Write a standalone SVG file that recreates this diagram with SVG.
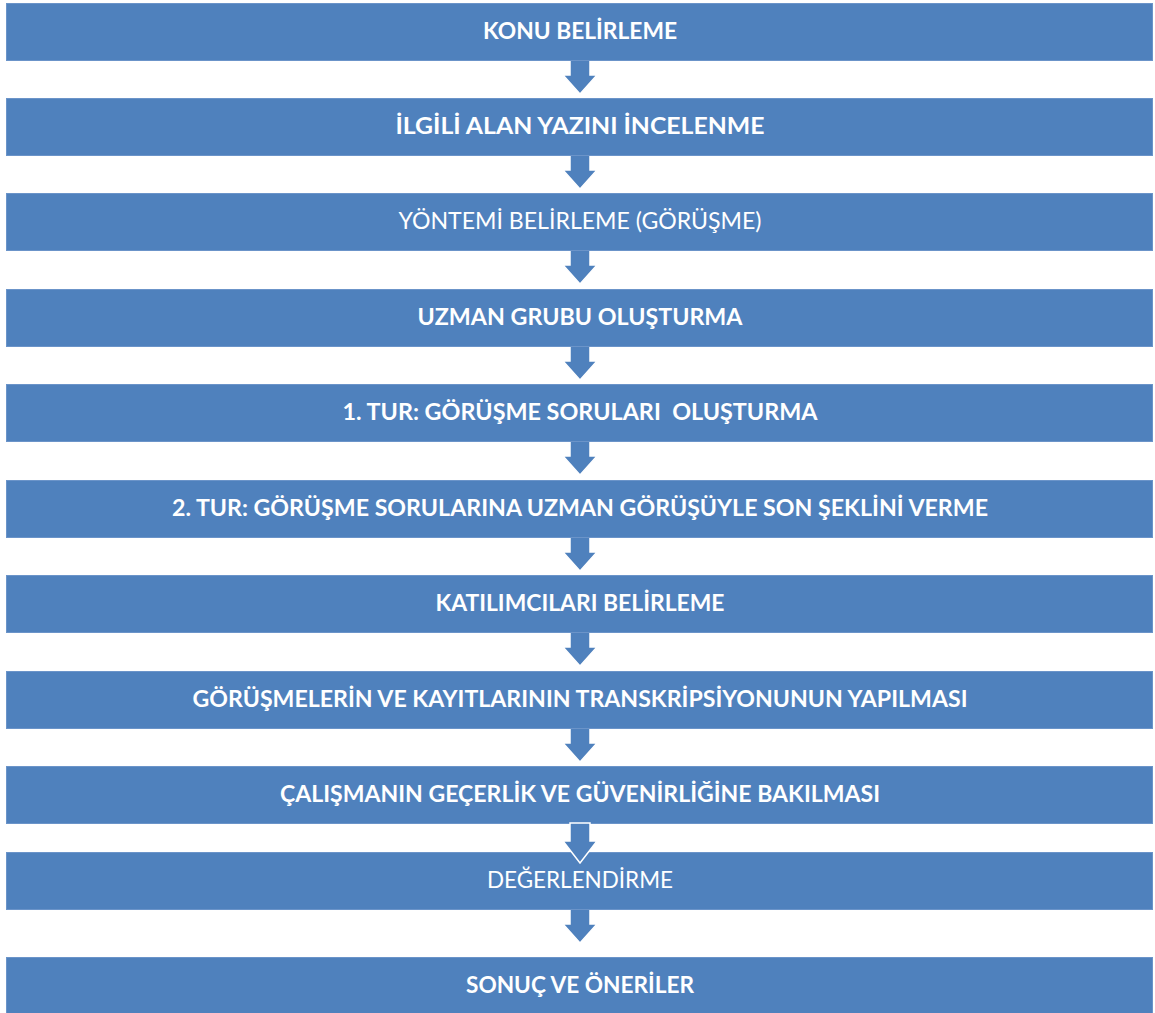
<svg xmlns="http://www.w3.org/2000/svg" width="1155" height="1013" viewBox="0 0 1155 1013">
  <style>
    .box { fill: #4F81BD; stroke: #6B94C9; stroke-width: 1; }
    .arrow { fill: #4F81BD; stroke: #FFFFFF; stroke-width: 1.5; stroke-linejoin: miter; }
    .lbl { font-family: Lato, "Open Sans", "Liberation Sans", sans-serif; font-size: 23.5px; fill: #FFFFFF; text-anchor: middle; }
    .b { font-weight: bold; }
  </style>
  <defs>
    <!-- down arrow, origin at the top of the stem -->
    <path id="down" d="M -10 0 H 10 V 15 H 17 L 0 34 L -17 15 H -10 Z"/>
    <!-- longer variant that runs into the box below -->
    <path id="downLong" d="M -10 0 H 10 V 18 H 17 L 0 40 L -17 18 H -10 Z"/>
  </defs>
  <rect width="1155" height="1013" fill="#FFFFFF"/>

  <g id="connectors">
    <use href="#down" class="arrow" x="580" y="60"/>
    <use href="#down" class="arrow" x="580" y="155"/>
    <use href="#down" class="arrow" x="580" y="250"/>
    <use href="#down" class="arrow" x="580" y="346"/>
    <use href="#down" class="arrow" x="580" y="441"/>
    <use href="#down" class="arrow" x="580" y="537"/>
    <use href="#down" class="arrow" x="580" y="632"/>
    <use href="#down" class="arrow" x="580" y="728"/>
    <use href="#down" class="arrow" x="580" y="909"/>
  </g>

  <g id="n1"><rect class="box" x="6.5" y="3.5" width="1146" height="57"/>
    <text class="lbl b" x="580" y="39" textLength="194" lengthAdjust="spacingAndGlyphs">KONU BELİRLEME</text></g>
  <g id="n2"><rect class="box" x="6.5" y="98.5" width="1146" height="57"/>
    <text class="lbl b" x="580" y="134" textLength="369" lengthAdjust="spacingAndGlyphs">İLGİLİ ALAN YAZINI İNCELENME</text></g>
  <g id="n3"><rect class="box" x="6.5" y="193.5" width="1146" height="57"/>
    <text class="lbl" x="580" y="229" textLength="363" lengthAdjust="spacingAndGlyphs">YÖNTEMİ BELİRLEME (GÖRÜŞME)</text></g>
  <g id="n4"><rect class="box" x="6.5" y="289.5" width="1146" height="57"/>
    <text class="lbl b" x="580" y="325" textLength="325" lengthAdjust="spacingAndGlyphs">UZMAN GRUBU OLUŞTURMA</text></g>
  <g id="n5"><rect class="box" x="6.5" y="384.5" width="1146" height="57"/>
    <text class="lbl b" x="580" y="420" textLength="475" lengthAdjust="spacingAndGlyphs" xml:space="preserve">1. TUR: GÖRÜŞME SORULARI  OLUŞTURMA</text></g>
  <g id="n6"><rect class="box" x="6.5" y="480.5" width="1146" height="57"/>
    <text class="lbl b" x="580" y="516" textLength="816" lengthAdjust="spacingAndGlyphs">2. TUR: GÖRÜŞME SORULARINA UZMAN GÖRÜŞÜYLE SON ŞEKLİNİ VERME</text></g>
  <g id="n7"><rect class="box" x="6.5" y="575.5" width="1146" height="57"/>
    <text class="lbl b" x="580" y="611" textLength="289" lengthAdjust="spacingAndGlyphs">KATILIMCILARI BELİRLEME</text></g>
  <g id="n8"><rect class="box" x="6.5" y="671.5" width="1146" height="57"/>
    <text class="lbl b" x="580" y="707" textLength="775" lengthAdjust="spacingAndGlyphs">GÖRÜŞMELERİN VE KAYITLARININ TRANSKRİPSİYONUNUN YAPILMASI</text></g>
  <g id="n9"><rect class="box" x="6.5" y="766.5" width="1146" height="57"/>
    <text class="lbl b" x="580" y="802" textLength="600" lengthAdjust="spacingAndGlyphs">ÇALIŞMANIN GEÇERLİK VE GÜVENİRLİĞİNE BAKILMASI</text></g>
  <g id="n10"><rect class="box" x="6.5" y="852.5" width="1146" height="57"/>
    <text class="lbl" x="580" y="888" textLength="186" lengthAdjust="spacingAndGlyphs">DEĞERLENDİRME</text></g>
  <!-- arrow 9→10 overlaps the top of the next box, so it is drawn above it -->
  <use href="#downLong" class="arrow" x="580" y="823" id="c9"/>
  <g id="n11"><rect class="box" x="6.5" y="957.5" width="1146" height="57"/>
    <text class="lbl b" x="580" y="993" textLength="228" lengthAdjust="spacingAndGlyphs">SONUÇ VE ÖNERİLER</text></g>
</svg>
